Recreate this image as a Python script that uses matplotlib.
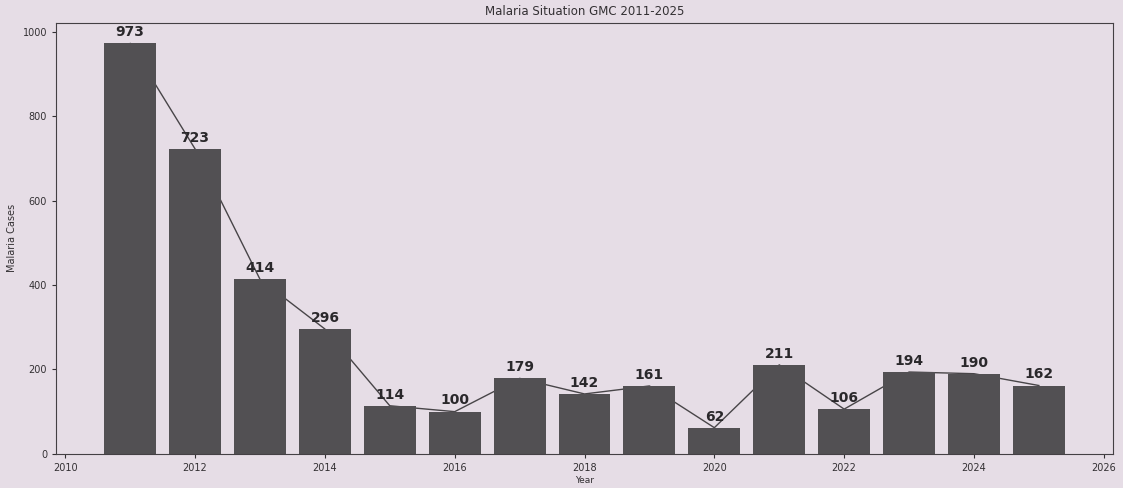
import matplotlib
matplotlib.use("Agg")
import matplotlib.pyplot as plt

years = [2011, 2012, 2013, 2014, 2015, 2016, 2017, 2018, 2019, 2020, 2021, 2022, 2023, 2024, 2025]
cases = [973, 723, 414, 296, 114, 100, 179, 142, 161, 62, 211, 106, 194, 190, 162]
title = "Malaria Situation GMC 2011-2025"
xlabel = "Year"
ylabel = "Malaria Cases"

bg = "#e6dde6"
fig = plt.figure(figsize=(11.23, 4.88), dpi=100, facecolor=bg)
ax = fig.add_axes([0.050, 0.070, 0.941, 0.883])
ax.set_facecolor(bg)

ax.plot(years, cases, color="#484548", linewidth=1.0, zorder=1)
bars = ax.bar(years, cases, width=0.8, color="#525053", zorder=2)
for x, v in zip(years, cases):
    ax.annotate(str(v), (x, v), xytext=(0, 3), textcoords="offset points",
                ha="center", va="bottom", fontsize=10, fontweight="bold", color="#2a282b")

ax.set_xticks(range(2010, 2027, 2))
ax.set_yticks(range(0, 1001, 200))
ax.tick_params(labelsize=7, colors="#333033", length=3)
ax.set_title(title, fontsize=8.5, color="#333033", pad=6)
ax.set_xlabel(xlabel, fontsize=6.5, color="#333033", labelpad=2.5)
ax.set_ylabel(ylabel, fontsize=7, color="#333033", labelpad=4)
for s in ax.spines.values():
    s.set_color("#444044")

fig.savefig("out.png", dpi=100, facecolor=bg)
